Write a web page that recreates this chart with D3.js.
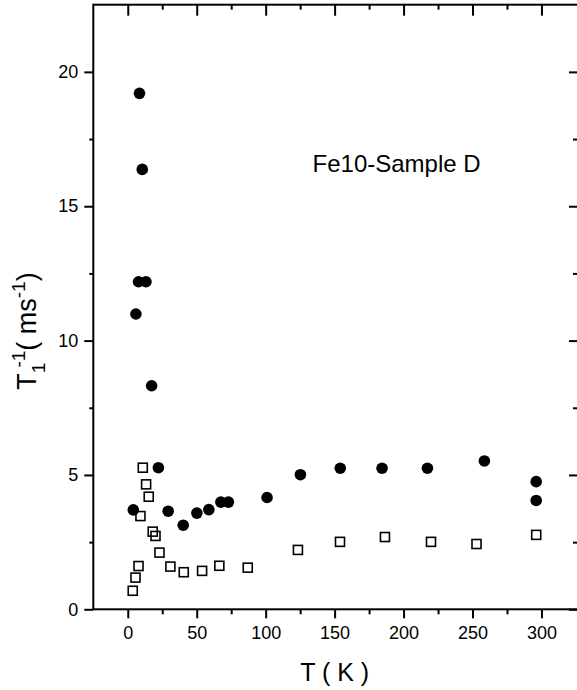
<!DOCTYPE html>
<html>
<head>
<meta charset="utf-8">
<script src="https://cdn.jsdelivr.net/npm/d3@7"></script>
<style>
  body { margin: 0; background: #fff; overflow: hidden; }
  svg { display: block; }
  text { font-family: Arial, "Liberation Sans", sans-serif; fill: #000; }
</style>
</head>
<body>
<div id="root"></div>
<script>
// filled circles
const filled_T = [8.5, 10.5, 7.8, 13.2, 5.9, 17.3, 4.0, 22.2, 29.3, 40.2, 50.1, 58.8, 67.5, 73.0, 101, 125.2, 154.1, 184.4, 217.3, 258.6, 296.2, 296.2]
const filled_rate = [19.2, 16.37, 12.19, 12.19, 10.99, 8.32, 3.70, 5.27, 3.65, 3.13, 3.58, 3.71, 3.99, 3.99, 4.16, 5.01, 5.25, 5.25, 5.25, 5.52, 4.75, 4.05]

// open squares
const open_T = [3.6, 5.6, 7.8, 9.2, 10.9, 13.3, 15.2, 18.1, 20.1, 23.0, 30.9, 40.6, 53.9, 66.4, 87.0, 123.4, 153.9, 186.5, 219.9, 252.9, 296.2]
const open_rate = [0.69, 1.18, 1.61, 3.47, 5.27, 4.65, 4.19, 2.89, 2.73, 2.11, 1.59, 1.38, 1.43, 1.62, 1.55, 2.21, 2.51, 2.69, 2.51, 2.43, 2.77]

const x_ticks = [0, 50, 100, 150, 200, 250, 300]
const x_minor = [25, 75, 125, 175, 225, 275]
const y_ticks = [0, 5, 10, 15, 20]
const y_minor = [2.5, 7.5, 12.5, 17.5]

const margin = {top: 4.7, left: 93.3}
const width = 484.7, height = 604.6

const svg = d3.select('#root').append('svg')
  .attr('width', 577).attr('height', 690)

const g = svg.append('g')
  .attr('transform', `translate(${margin.left},${margin.top})`)

const x_scale = d3.scaleLinear().domain([-25, 326.5]).range([0, width])
const y_scale = d3.scaleLinear().domain([0, 22.5]).range([height, 0])

const style_axis = sel => {
  sel.select('.domain').remove()
  sel.selectAll('line').attr('stroke', '#000').attr('stroke-width', 2)
  sel.selectAll('text').style('font-size', '18px').style('font-family', 'Arial, "Liberation Sans", sans-serif')
}

// bottom
g.append('g').attr('transform', `translate(0,${height})`)
  .call(d3.axisBottom(x_scale).tickValues(x_ticks).tickSize(9).tickPadding(8))
  .call(style_axis)
g.append('g').attr('transform', `translate(0,${height})`)
  .call(d3.axisBottom(x_scale).tickValues(x_minor).tickSize(5).tickFormat(''))
  .call(style_axis)
// top
g.append('g')
  .call(d3.axisBottom(x_scale).tickValues(x_ticks).tickSize(11).tickFormat(''))
  .call(style_axis)
g.append('g')
  .call(d3.axisBottom(x_scale).tickValues(x_minor).tickSize(5).tickFormat(''))
  .call(style_axis)
// left
g.append('g')
  .call(d3.axisLeft(y_scale).tickValues(y_ticks).tickSize(9).tickPadding(6))
  .call(style_axis)
g.append('g')
  .call(d3.axisLeft(y_scale).tickValues(y_minor).tickSize(4).tickFormat(''))
  .call(style_axis)
// right
g.append('g').attr('transform', `translate(${width},0)`)
  .call(d3.axisLeft(y_scale).tickValues(y_ticks).tickSize(9).tickFormat(''))
  .call(style_axis)
g.append('g').attr('transform', `translate(${width},0)`)
  .call(d3.axisLeft(y_scale).tickValues(y_minor).tickSize(5).tickFormat(''))
  .call(style_axis)

g.append('rect')
  .attr('width', width).attr('height', height)
  .attr('fill', 'none').attr('stroke', '#000').attr('stroke-width', 2)

const filled = filled_T.map((t, i) => ({t: t, r: filled_rate[i]}))
const open = open_T.map((t, i) => ({t: t, r: open_rate[i]}))

g.selectAll('rect.sq').data(open).enter()
  .append('rect').attr('class', 'sq')
  .attr('x', d => x_scale(d.t) - 4.5)
  .attr('y', d => y_scale(d.r) - 4.5)
  .attr('width', 9).attr('height', 9)
  .attr('fill', 'none').attr('stroke', '#000').attr('stroke-width', 1.6)

g.selectAll('circle').data(filled).enter()
  .append('circle')
  .attr('cx', d => x_scale(d.t))
  .attr('cy', d => y_scale(d.r))
  .attr('r', 5.8)
  .attr('fill', '#000')

g.append('text')
  .attr('x', x_scale(134)).attr('y', y_scale(16.27))
  .attr('text-anchor', 'start')
  .style('font-size', '24px')
  .text('Fe10-Sample D')

svg.append('text')
  .attr('x', margin.left + 241.4).attr('y', 681)
  .attr('text-anchor', 'middle')
  .style('font-size', '25px')
  .text('T ( K )')

const ylab = svg.append('text')
  .attr('transform', 'translate(36,331) rotate(-90)')
  .attr('text-anchor', 'middle')
  .style('font-size', '27px')
ylab.append('tspan').text('T')
ylab.append('tspan').attr('dy', 9).style('font-size', '19px').text('1')
ylab.append('tspan').attr('dy', -20).attr('dx', -5).style('font-size', '19px').text('-1')
ylab.append('tspan').attr('dy', 11).text('( ms')
ylab.append('tspan').attr('dy', -11).style('font-size', '19px').text('-1')
ylab.append('tspan').attr('dy', 11).text(')')
</script>
</body>
</html>
